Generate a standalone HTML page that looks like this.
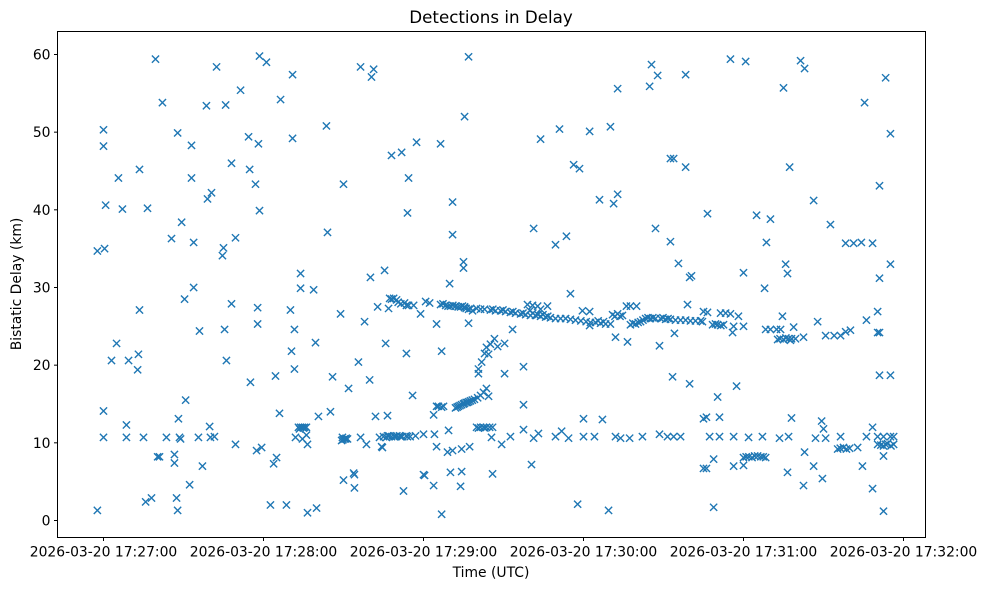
<!DOCTYPE html>
<html><head><meta charset="utf-8"><style>
html,body{margin:0;padding:0;background:#fff;}
svg{display:block;font-family:"DejaVu Sans","Liberation Sans",sans-serif;}
</style></head><body>
<svg id="chart" width="986" height="590" viewBox="0 0 986 590" xmlns="http://www.w3.org/2000/svg">
<rect x="0" y="0" width="986" height="590" fill="#fff"/>
<text x="491" y="23" text-anchor="middle" font-size="16.7">Detections in Delay</text>
<text x="491" y="577" text-anchor="middle" font-size="13.9">Time (UTC)</text>
<text x="21" y="284" text-anchor="middle" font-size="13.9" transform="rotate(-90 21 284)">Bistatic Delay (km)</text>
<g id="ticks"></g>
<g id="marks"></g>
<rect x="57.5" y="31.5" width="868" height="506" fill="none" stroke="#000" stroke-width="1"/>
</svg>
<script>
// seconds after 17:27:00 UTC
const xTickValues = [0, 60, 120, 180, 240, 300];
const xTickLabels = ["2026-03-20 17:27:00","2026-03-20 17:28:00","2026-03-20 17:29:00","2026-03-20 17:30:00","2026-03-20 17:31:00","2026-03-20 17:32:00"];
const yTickValues = [0, 10, 20, 30, 40, 50, 60];
const detections = [
[-2.3,1.3],[-2.3,34.7],[0,50.3],[0,48.2],[0.4,35],[0,14.1],[0,10.7],[0.8,40.6],[3,20.6],[4.9,22.8],[5.6,44.1],[7.1,40.1],[8.6,12.3],[8.6,10.7],[9.4,20.6],[12.8,19.4],[13.1,21.4],[13.5,27.1],[13.5,45.2],[15,10.7],[15.8,2.4],[16.5,40.2],[18,2.9],[19.5,59.4],[20.3,8.2],[21,8.2],[22.1,53.8],[23.6,10.7],[25.5,36.3],[26.6,8.5],[26.6,7.4],[27.4,2.9],[27.8,1.3],[27.8,49.9],[28.1,13.1],[28.5,10.7],[28.9,10.5],[29.3,38.4],[30.4,28.5],[30.8,15.5],[32.3,4.6],[33,48.3],[33,44.1],[33.8,30],[33.8,35.8],[35.6,10.7],[36,24.4],[37.1,7],[38.6,53.4],[39,41.4],[39.8,12.1],[40.1,10.7],[40.5,42.2],[41.6,10.8],[42.4,58.4],[44.6,34.1],[45,35.1],[45.4,24.6],[45.8,53.5],[46.1,20.6],[48,46],[48,27.9],[49.5,36.4],[49.5,9.8],[51.4,55.4],[54.4,49.4],[54.8,45.2],[55.1,17.8],[57,43.3],[57.4,9],[57.8,27.4],[57.8,25.3],[58.1,48.5],[58.5,39.9],[58.5,59.8],[59.3,9.4],[61.1,59],[62.6,2],[63.8,7.3],[64.5,18.6],[64.9,8.1],[66,13.8],[66.4,54.2],[68.6,2],[70.1,27.1],[70.5,21.8],[70.9,57.4],[70.9,49.2],[71.6,24.6],[71.6,19.5],[72,10.7],[73.1,12],[73.9,12],[74.6,12],[75.4,12],[76.1,12],[73.5,11.8],[75,11.9],[73.9,29.9],[73.9,31.8],[74.6,10.5],[76.1,11],[76.5,1],[78.8,29.7],[79.5,22.9],[79.9,1.6],[80.6,13.4],[83.6,50.8],[84,37.1],[85.1,14],[85.9,18.5],[88.9,26.6],[89.3,10.3],[89.6,10.7],[90,5.2],[90.4,10.5],[90.8,10.5],[91.5,10.5],[89.8,10.4],[91,10.6],[90,43.3],[91.9,17],[93.8,6.1],[94.1,4.2],[95.6,20.4],[96.4,58.4],[97.9,25.6],[99.8,18.1],[100.1,31.3],[100.5,57.1],[101.3,58.1],[102,13.4],[102.8,27.5],[103.5,10.7],[104.3,9.5],[105.4,32.2],[105.8,22.8],[106.1,10.7],[106.5,13.5],[106.9,27.3],[107.3,28.6],[108,47],[108.8,28.6],[109.5,10.8],[109.9,28.4],[111.4,10.8],[111.8,47.4],[112.5,3.8],[112.9,28],[113.6,27.7],[114,39.6],[113.6,21.5],[114.4,44.1],[114.4,27.7],[115.9,16.1],[116.3,27.7],[108,28.5],[110.5,28.1],[111.5,27.9],
[105,10.8],[106.5,10.9],[108,10.8],[110,10.9],[112,10.8],[113.5,10.9],[115,10.8],[117,10.9],[107,10.9],[109,10.8],[111,10.9],[114,10.8],
[117.4,48.7],[118.9,26.6],[120,5.9],[120,11.1],[120.8,28.2],[122.3,28],[123.8,13.6],[124.1,11.1],[124.9,25.3],[124.9,14.7],[125.6,14.7],[126.8,14.6],[127.5,14.7],[126.4,48.5],[126.8,21.8],[129,8.8],[129.4,11.6],[130.1,6.2],[130.9,41],[130.9,36.8],[129.8,30.5],
[126.4,27.8],[128.3,27.7],[130.1,27.6],[132,27.6],[133.9,27.5],[135.4,27.4],[136.9,27.2],[138.4,27],[139.9,27.3],[141.4,27.2],[142.9,27.2],[127.3,27.9],[129.2,27.6],[131,27.7],[133,27.5],[134.6,27.6],[136,27.3],[137.7,27.3],
[132,14.5],[133.1,14.7],[134.3,14.9],[135.4,15.1],[136.5,15.2],[137.6,15.4],[139.1,15.6],[140.3,15.8],[141.4,16.1],[142.5,16.5],[143.6,17],[140.6,19.5],[140.6,18.9],[141.8,20.4],[142.9,21.5],[143.6,22.3],[145.1,22.7],[146.6,23.4],[132.6,14.6],[133.7,14.8],[135,15],[136,15.2],[137,15.3],[138.3,15.5],
[133.9,4.4],[134.3,9.2],[134.3,6.3],[135,33.3],[135,32.5],[135.4,27.5],[135.4,52],[136.9,59.7],[136.9,25.4],
[139.9,12],[141.4,12],[142.5,12],[143.6,12],[144.8,12],[145.9,12],[140.6,11.9],[143,11.9],[145.5,10.7],[145.9,6],
[160.5,7.2],[177.8,2.1],[189.4,1.3],[149.3,9.8],[152.6,10.8],[157.5,11.7],[157.5,14.9],[157.5,19.8],[150.4,18.9],[153.4,24.6],[150.4,22.8],[147.8,22.4],[144.4,21.4],[144.4,16],[161.3,10.6],[163.1,11.2],[169.5,10.8],[171.8,11.5],[174.4,10.6],[180,10.8],[180,13.1],[184.1,10.8],[187.1,13],[192,10.8],[193.9,10.6],[197.3,10.6],[202.1,10.8],[208.5,11.1],[211.5,10.8],[213.8,10.8],[216.4,10.8],[225,13.1],[225,6.7],
[205.5,58.7],[207.8,57.3],[204.8,55.9],[218.3,57.4],[192.8,55.6],[171,50.4],[163.9,49.1],[182.3,50.1],[190.1,50.7],[212.6,46.6],[213.8,46.6],[218.3,45.5],[176.3,45.8],[178.5,45.3],[186,41.3],[191.3,40.8],[192.8,42],[161.3,37.6],[169.5,35.5],[173.6,36.6],[207,37.6],[212.6,35.9],[215.6,33.1],[219.8,31.3],[220.5,31.5],[175.1,29.2],[166.5,27.6],[179.6,27],[182.3,26.9],[182.3,25.1],[192,23.6],[196.5,23],[208.5,22.5],[214.1,24.1],[219,27.8],[213.4,18.5],[219.8,17.6],[225,26.9],
[145.1,27.1],[147,27],[148.9,27],[150.8,26.9],[152.6,26.8],[154.5,26.7],[156.4,26.6],[158.3,26.5],[160.1,26.4],[162,26.4],[163.9,26.3],[165.8,26.2],[167.6,26.1],[169.5,26],[171.4,26],[173.3,26],[175.1,25.9],[177,25.8],[179,25.7],[181,25.6],[159,27.8],[160.9,27.7],[162.8,27.6],[163.9,27.2],[182.6,25.5],[184.5,25.5],[186.4,25.4],[188.3,25.3],[190.1,25.3],[190.9,26.5],[192.8,26.6],[194.6,26.4],[196.1,27.6],[197.6,27.6],[199.9,27.6],[197.6,25.2],[199.5,25.3],[201.4,25.6],[203.3,26],[205.1,26],[207,26],[208.9,26],[210.8,25.9],[212.6,25.9],[214.5,25.8],[216.4,25.8],[218.3,25.8],[220.1,25.7],[222,25.7],[223.9,25.7],
[146,27.2],[149.8,27.1],[153.5,26.9],[157.3,26.7],[159.9,27],[161,26.7],[162.9,26.5],[164.8,26.5],[166.6,26.3],[185.5,25.7],[187.5,25.6],[191.8,26.3],[193.7,26.3],[198.5,25.4],[200.5,25.5],[202.3,25.8],[204.2,26.1],[206,26.1],[209.8,26.1],[211.7,26],
[96.4,10.7],[98.6,9.8],[104.6,9.4],[124.9,9.5],[130.9,9],[137.3,9.5],[76.5,9.8],[94.1,5.9],[120.4,5.8],[123.8,4.5],[126.8,0.8],
[235.1,59.4],[240.8,59.1],[261.4,59.2],[262.9,58.2],[255,55.7],[293.3,57],[285.4,53.8],[295.1,49.8],[257.3,45.5],[291,43.1],[266.3,41.2],[226.5,39.5],[244.9,39.3],[250.1,38.8],[272.6,38.1],[248.6,35.8],[278.3,35.7],[281.3,35.7],[284.2,35.8],[288.4,35.7],[295.1,33],[255.8,33],[256.5,31.8],[240,31.9],[291,31.2],[247.9,29.9],[290.3,26.9],[226.5,26.8],[231.4,26.7],[233.3,26.7],[235.1,26.6],[238.1,26.3],[254.6,26.3],[267.8,25.6],[286.1,25.8],[224.6,25.6],[228.4,25.2],[230.3,25.2],[232.5,25.2],[236.3,25],[235.9,24.2],[240,25],[248.3,24.6],[250.1,24.6],[252.4,24.6],[253.9,24.6],[258.8,24.9],[252.8,23.3],[255,23.3],[256.9,23.4],[258,23.4],[259.5,23.4],[262.5,23.6],[270.8,23.8],[274,23.8],[276.4,23.8],[278.3,24.3],[280.1,24.5],[290.3,24.2],[291,24.2],[291,18.7],[295.1,18.7],[237.4,17.3],[230.3,15.9],[226.1,13.3],[231,13.3],[258,13.2],[269.3,12.8],[270,11.8],[288.4,12],[227.3,10.8],[231,10.8],[236.3,10.8],[241.9,10.7],[247.1,10.8],[253.5,10.6],[256.9,10.8],[267,10.6],[270.8,10.6],[276.4,10.8],[286.1,10.8],[290.3,10.8],[292.5,10.8],[295.1,10.8],[296.3,10.8],[275.3,9.2],[277.5,9.4],[279.8,9.3],[282.8,9.4],[290.3,9.8],[292.5,9.6],[294,9.9],[296.3,9.8],[240,8.1],[242,8.2],[244.2,8.3],[246.5,8.2],[248.3,8.1],[262.9,8.8],[228.8,7.9],[226.1,6.7],[236.3,7],[240,7.1],[266.3,7],[284.6,7],[292.5,8.3],[256.5,6.2],[269.6,5.4],[262.5,4.5],[288.4,4.1],[228.8,1.7],[292.5,1.2],
[229.5,25.3],[231.5,25.1],[253.7,23.4],[255.9,23.5],[257.6,23.2],[241,8.2],[243.2,8.1],[245.3,8.3],[247.4,8.2],[276.3,9.3],[278.6,9.2],[291.5,9.7],[293.3,9.8],[295.3,9.6]
];
const times = detections.map(d => d[0]);
const delays = detections.map(d => d[1]);

const NS = "http://www.w3.org/2000/svg";
const X0 = 57.5, X1 = 925.5, Y0 = 537.5, Y1 = 31.5;
const xMin = -17.25, xMax = 308.25, yMin = -2.19, yMax = 62.96;
function xScale(t){ return X0 + (t - xMin) / (xMax - xMin) * (X1 - X0); }
function yScale(v){ return Y0 - (v - yMin) / (yMax - yMin) * (Y0 - Y1); }

const ticks = document.getElementById('ticks');
xTickValues.forEach((v, i) => {
  const x = xScale(v);
  const l = document.createElementNS(NS, 'line');
  l.setAttribute('x1', x); l.setAttribute('x2', x);
  l.setAttribute('y1', Y0); l.setAttribute('y2', Y0 + 3.5);
  l.setAttribute('stroke', '#000');
  
  
  ticks.appendChild(l);
  const t = document.createElementNS(NS, 'text');
  t.setAttribute('x', x); t.setAttribute('y', Y0 + 19);
  t.setAttribute('text-anchor', 'middle'); t.setAttribute('font-size', '13.9');
  t.textContent = xTickLabels[i];
  
  
  ticks.appendChild(t);
});
yTickValues.forEach(v => {
  const y = yScale(v);
  const l = document.createElementNS(NS, 'line');
  l.setAttribute('x1', X0 - 3.5); l.setAttribute('x2', X0);
  l.setAttribute('y1', y); l.setAttribute('y2', y);
  l.setAttribute('stroke', '#000');
  
  
  ticks.appendChild(l);
  const t = document.createElementNS(NS, 'text');
  t.setAttribute('x', X0 - 7); t.setAttribute('y', y + 5);
  t.setAttribute('text-anchor', 'end'); t.setAttribute('font-size', '13.9');
  t.textContent = String(v);
  
  
  ticks.appendChild(t);
});

const marks = document.getElementById('marks');
const r = 3.6;
for (let i = 0; i < times.length; i++) {
  const cx = xScale(times[i]), cy = yScale(delays[i]);
  const p = document.createElementNS(NS, 'path');
  p.setAttribute('d', `M${cx-r},${cy-r}L${cx+r},${cy+r}M${cx-r},${cy+r}L${cx+r},${cy-r}`);
  p.setAttribute('stroke', '#1f77b4');
  p.setAttribute('stroke-width', '1.4');
  p.setAttribute('fill', 'none');
  
  
  marks.appendChild(p);
}
</script>
</body></html>
